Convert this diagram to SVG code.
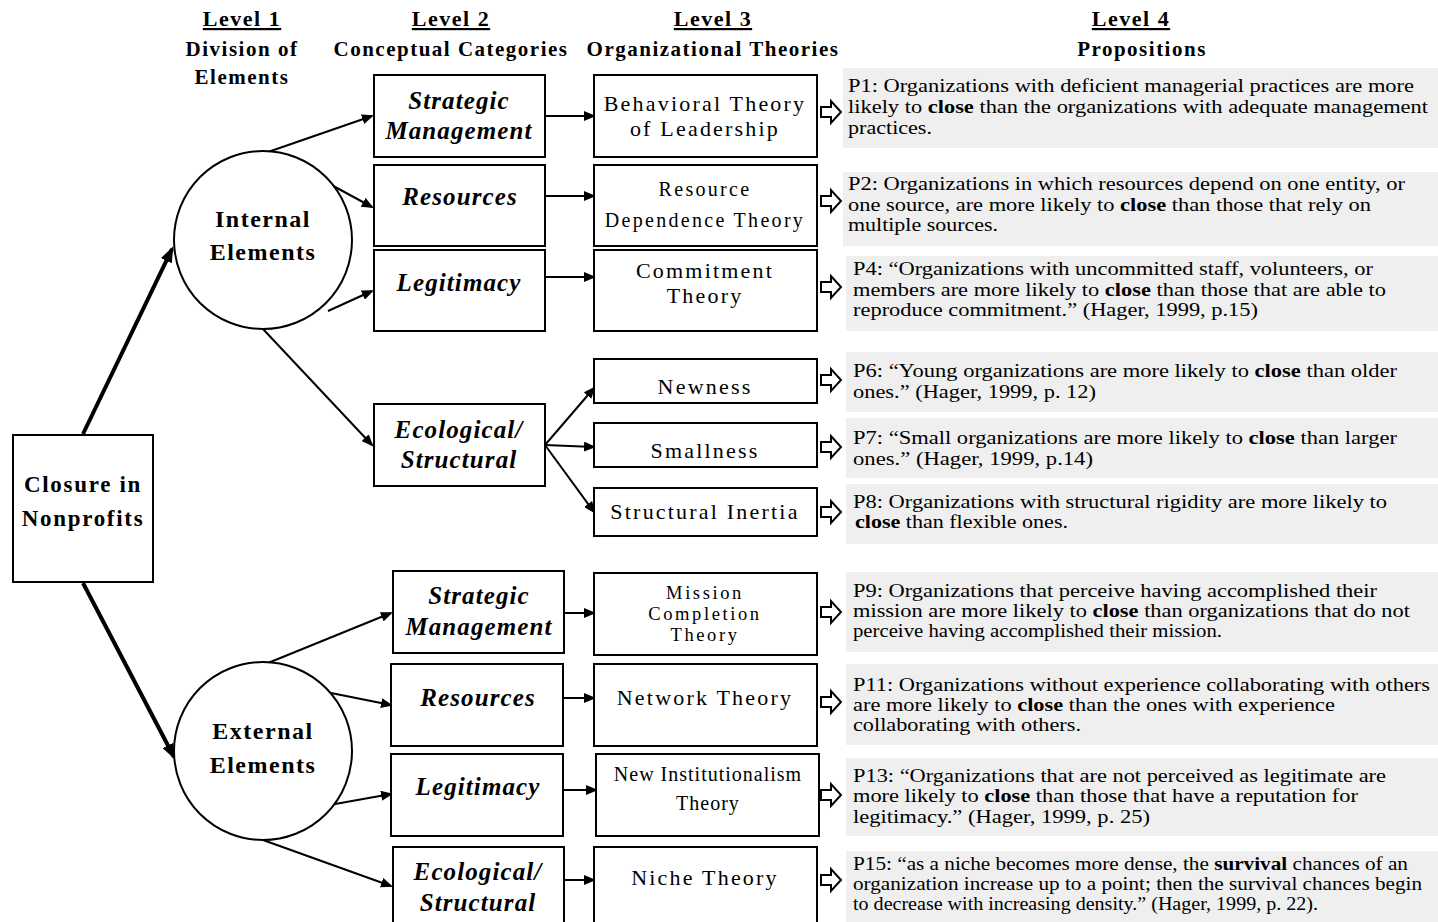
<svg xmlns="http://www.w3.org/2000/svg" width="1438" height="922" viewBox="0 0 1438 922">
<style>
text{font-family:"Liberation Serif","Times New Roman",serif;fill:#000}
.hd{font-size:21px;font-weight:bold;letter-spacing:1.5px;text-anchor:middle}
.lv{font-size:22px;font-weight:bold;letter-spacing:1.5px;text-anchor:middle;text-decoration:underline}
.box{fill:#fff;stroke:#000;stroke-width:2}
.circ{fill:#fff;stroke:#000;stroke-width:2}
.prop{fill:#efefef}
.c1{font-size:23px;font-weight:bold;letter-spacing:1.7px;text-anchor:middle}
.ce{font-size:24px;font-weight:bold;letter-spacing:1.5px;text-anchor:middle}
.l2{font-size:25px;font-weight:bold;font-style:italic;letter-spacing:1.1px;text-anchor:middle}
.l3{font-size:22px;letter-spacing:2.2px;text-anchor:middle}
.l3s{font-size:20px;letter-spacing:2.3px;text-anchor:middle}
.l3m{font-size:18.5px;letter-spacing:2.6px;text-anchor:middle}
.l3n{font-size:20px;letter-spacing:1px;text-anchor:middle}
.pt{font-size:18px}
.b{font-weight:bold}
.ln{fill:none;stroke:#000;stroke-width:2;marker-end:url(#ah)}
.thk{fill:none;stroke:#000;stroke-width:4;marker-end:url(#ahb)}
.ha{fill:#fff;stroke:#000;stroke-width:2;stroke-linejoin:miter}
</style>
<defs>
<marker id="ah" viewBox="0 0 12 10" refX="10" refY="5" markerWidth="12" markerHeight="10" markerUnits="userSpaceOnUse" orient="auto"><path d="M0,0 L12,5 L0,10 z" fill="#000"/></marker>
<marker id="ahb" viewBox="0 0 16 12" refX="13" refY="6" markerWidth="16" markerHeight="12" markerUnits="userSpaceOnUse" orient="auto"><path d="M0,0 L16,6 L0,12 z" fill="#000"/></marker>
<path id="hollow" class="ha" d="M0,-5 H10 V-11 L20,0 L10,11 V5 H0 Z"/>
</defs>

<g id="headers">
<text class="lv" x="242" y="26">Level 1</text>
<text class="hd" x="242" y="56">Division of</text>
<text class="hd" x="242" y="84">Elements</text>
<text class="lv" x="451" y="26">Level 2</text>
<text class="hd" x="451" y="56">Conceptual Categories</text>
<text class="lv" x="713" y="26">Level 3</text>
<text class="hd" x="713" y="56">Organizational Theories</text>
<text class="lv" x="1131" y="26">Level 4</text>
<text class="hd" x="1142" y="56">Propositions</text>
</g>

<g id="connectors">
<path class="thk" d="M83,434 L172,249"/>
<path class="thk" d="M83,583 L174,757"/>
<path class="ln" d="M268,152 L372,116"/>
<path class="ln" d="M326,182 L372,207"/>
<path class="ln" d="M328,311 L372,291"/>
<path class="ln" d="M263,329 L372,445"/>
<path class="ln" d="M268,663 L391,613"/>
<path class="ln" d="M326,692 L391,705"/>
<path class="ln" d="M324,806 L391,794"/>
<path class="ln" d="M263,840 L391,886"/>
<path class="ln" d="M545,116 L594,116"/>
<path class="ln" d="M545,196 L594,196"/>
<path class="ln" d="M545,277 L594,277"/>
<path class="ln" d="M545,445 L594,388"/>
<path class="ln" d="M545,445 L594,447"/>
<path class="ln" d="M545,445 L594,512"/>
<path class="ln" d="M564,613 L594,613"/>
<path class="ln" d="M563,698 L594,698"/>
<path class="ln" d="M563,790 L596,790"/>
<path class="ln" d="M564,880 L594,880"/>
<use href="#hollow" x="821" y="112"/>
<use href="#hollow" x="821" y="201"/>
<use href="#hollow" x="821" y="287"/>
<use href="#hollow" x="821" y="380"/>
<use href="#hollow" x="821" y="447"/>
<use href="#hollow" x="821" y="512"/>
<use href="#hollow" x="821" y="612"/>
<use href="#hollow" x="821" y="702"/>
<use href="#hollow" x="821" y="795"/>
<use href="#hollow" x="821" y="880"/>
</g>

<g id="closure">
<rect class="box" x="13" y="435" width="140" height="147"/>
<text class="c1" x="83" y="492">Closure in</text>
<text class="c1" x="83" y="526">Nonprofits</text>
</g>

<g id="internal">
<circle class="circ" cx="263" cy="240" r="89"/>
<text class="ce" x="263" y="227">Internal</text>
<text class="ce" x="263" y="260">Elements</text>
</g>
<g id="external">
<circle class="circ" cx="263" cy="751" r="89"/>
<text class="ce" x="263" y="739">External</text>
<text class="ce" x="263" y="773">Elements</text>
</g>

<g id="int-strategic">
<rect class="box" x="374" y="75" width="171" height="82"/>
<text class="l2" x="459" y="109">Strategic</text>
<text class="l2" x="459" y="139">Management</text>
</g>
<g id="int-resources">
<rect class="box" x="374" y="165" width="171" height="81"/>
<text class="l2" x="460" y="205">Resources</text>
</g>
<g id="int-legitimacy">
<rect class="box" x="374" y="250" width="171" height="81"/>
<text class="l2" x="459" y="291">Legitimacy</text>
</g>
<g id="int-ecological">
<rect class="box" x="374" y="404" width="171" height="82"/>
<text class="l2" x="459" y="438">Ecological/</text>
<text class="l2" x="459" y="468">Structural</text>
</g>

<g id="ext-strategic">
<rect class="box" x="393" y="571" width="171" height="82"/>
<text class="l2" x="479" y="604">Strategic</text>
<text class="l2" x="479" y="635">Management</text>
</g>
<g id="ext-resources">
<rect class="box" x="391" y="664" width="172" height="82"/>
<text class="l2" x="478" y="706">Resources</text>
</g>
<g id="ext-legitimacy">
<rect class="box" x="391" y="754" width="172" height="82"/>
<text class="l2" x="478" y="795">Legitimacy</text>
</g>
<g id="ext-ecological">
<rect class="box" x="393" y="847" width="171" height="80"/>
<text class="l2" x="478" y="880">Ecological/</text>
<text class="l2" x="478" y="911">Structural</text>
</g>

<g id="behavioral">
<rect class="box" x="594" y="75" width="223" height="82"/>
<text class="l3" x="705" y="111">Behavioral Theory</text>
<text class="l3" x="705" y="136">of Leadership</text>
</g>
<g id="resource-dependence">
<rect class="box" x="594" y="165" width="223" height="81"/>
<text class="l3s" x="705" y="196">Resource</text>
<text class="l3s" x="705" y="227">Dependence Theory</text>
</g>
<g id="commitment">
<rect class="box" x="594" y="250" width="223" height="81"/>
<text class="l3" x="705" y="278">Commitment</text>
<text class="l3" x="705" y="303">Theory</text>
</g>
<g id="newness">
<rect class="box" x="594" y="359" width="223" height="44"/>
<text class="l3" x="705" y="394">Newness</text>
</g>
<g id="smallness">
<rect class="box" x="594" y="423" width="223" height="44"/>
<text class="l3" x="705" y="458">Smallness</text>
</g>
<g id="structural-inertia">
<rect class="box" x="594" y="488" width="223" height="48"/>
<text class="l3" x="705" y="519">Structural Inertia</text>
</g>
<g id="mission">
<rect class="box" x="594" y="573" width="223" height="82"/>
<text class="l3m" x="705" y="599">Mission</text>
<text class="l3m" x="705" y="620">Completion</text>
<text class="l3m" x="705" y="641">Theory</text>
</g>
<g id="network">
<rect class="box" x="594" y="664" width="223" height="82"/>
<text class="l3" x="705" y="705">Network Theory</text>
</g>
<g id="new-institutionalism">
<rect class="box" x="596" y="754" width="223" height="82"/>
<text class="l3n" x="708" y="781">New Institutionalism</text>
<text class="l3n" x="708" y="810">Theory</text>
</g>
<g id="niche">
<rect class="box" x="594" y="847" width="223" height="80"/>
<text class="l3" x="705" y="885">Niche Theory</text>
</g>

<g id="p1">
<rect class="prop" x="843" y="68" width="595" height="80"/>
<text class="pt" x="848" y="92" textLength="566" lengthAdjust="spacingAndGlyphs">P1: Organizations with deficient managerial practices are more</text>
<text class="pt" x="848" y="113" textLength="580" lengthAdjust="spacingAndGlyphs">likely to <tspan class="b">close</tspan> than the organizations with adequate management</text>
<text class="pt" x="848" y="134" textLength="84" lengthAdjust="spacingAndGlyphs">practices.</text>
</g>
<g id="p2">
<rect class="prop" x="843" y="172" width="595" height="74"/>
<text class="pt" x="848" y="190" textLength="557" lengthAdjust="spacingAndGlyphs">P2: Organizations in which resources depend on one entity, or</text>
<text class="pt" x="848" y="211" textLength="523" lengthAdjust="spacingAndGlyphs">one source, are more likely to <tspan class="b">close</tspan> than those that rely on</text>
<text class="pt" x="848" y="231" textLength="150" lengthAdjust="spacingAndGlyphs">multiple sources.</text>
</g>
<g id="p4">
<rect class="prop" x="846" y="256" width="592" height="75"/>
<text class="pt" x="853" y="275" textLength="520" lengthAdjust="spacingAndGlyphs">P4: “Organizations with uncommitted staff, volunteers, or</text>
<text class="pt" x="853" y="296" textLength="533" lengthAdjust="spacingAndGlyphs">members are more likely to <tspan class="b">close</tspan> than those that are able to</text>
<text class="pt" x="853" y="316" textLength="405" lengthAdjust="spacingAndGlyphs">reproduce commitment.” (Hager, 1999, p.15)</text>
</g>
<g id="p6">
<rect class="prop" x="846" y="352" width="592" height="60"/>
<text class="pt" x="853" y="377" textLength="544" lengthAdjust="spacingAndGlyphs">P6: “Young organizations are more likely to <tspan class="b">close</tspan> than older</text>
<text class="pt" x="853" y="398" textLength="243" lengthAdjust="spacingAndGlyphs">ones.” (Hager, 1999, p. 12)</text>
</g>
<g id="p7">
<rect class="prop" x="846" y="418" width="592" height="60"/>
<text class="pt" x="853" y="444" textLength="544" lengthAdjust="spacingAndGlyphs">P7: “Small organizations are more likely to <tspan class="b">close</tspan> than larger</text>
<text class="pt" x="853" y="465" textLength="240" lengthAdjust="spacingAndGlyphs">ones.” (Hager, 1999, p.14)</text>
</g>
<g id="p8">
<rect class="prop" x="846" y="484" width="592" height="60"/>
<text class="pt" x="853" y="508" textLength="534" lengthAdjust="spacingAndGlyphs">P8: Organizations with structural rigidity are more likely to</text>
<text class="pt" x="855" y="528" textLength="213" lengthAdjust="spacingAndGlyphs"><tspan class="b">close</tspan> than flexible ones.</text>
</g>
<g id="p9">
<rect class="prop" x="846" y="572" width="592" height="80"/>
<text class="pt" x="853" y="597" textLength="524" lengthAdjust="spacingAndGlyphs">P9: Organizations that perceive having accomplished their</text>
<text class="pt" x="853" y="617" textLength="557" lengthAdjust="spacingAndGlyphs">mission are more likely to <tspan class="b">close</tspan> than organizations that do not</text>
<text class="pt" x="853" y="637" textLength="369" lengthAdjust="spacingAndGlyphs">perceive having accomplished their mission.</text>
</g>
<g id="p11">
<rect class="prop" x="846" y="664" width="592" height="81"/>
<text class="pt" x="853" y="691" textLength="577" lengthAdjust="spacingAndGlyphs">P11: Organizations without experience collaborating with others</text>
<text class="pt" x="853" y="711" textLength="482" lengthAdjust="spacingAndGlyphs">are more likely to <tspan class="b">close</tspan> than the ones with experience</text>
<text class="pt" x="853" y="731" textLength="228" lengthAdjust="spacingAndGlyphs">collaborating with others.</text>
</g>
<g id="p13">
<rect class="prop" x="846" y="758" width="592" height="78"/>
<text class="pt" x="853" y="782" textLength="533" lengthAdjust="spacingAndGlyphs">P13: “Organizations that are not perceived as legitimate are</text>
<text class="pt" x="853" y="802" textLength="505" lengthAdjust="spacingAndGlyphs">more likely to <tspan class="b">close</tspan> than those that have a reputation for</text>
<text class="pt" x="853" y="823" textLength="297" lengthAdjust="spacingAndGlyphs">legitimacy.” (Hager, 1999, p. 25)</text>
</g>
<g id="p15">
<rect class="prop" x="846" y="851" width="592" height="71"/>
<text class="pt" x="853" y="870" textLength="555" lengthAdjust="spacingAndGlyphs">P15: “as a niche becomes more dense, the <tspan class="b">survival</tspan> chances of an</text>
<text class="pt" x="853" y="890" textLength="569" lengthAdjust="spacingAndGlyphs">organization increase up to a point; then the survival chances begin</text>
<text class="pt" x="853" y="910" textLength="465" lengthAdjust="spacingAndGlyphs">to decrease with increasing density.” (Hager, 1999, p. 22).</text>
</g>
</svg>
